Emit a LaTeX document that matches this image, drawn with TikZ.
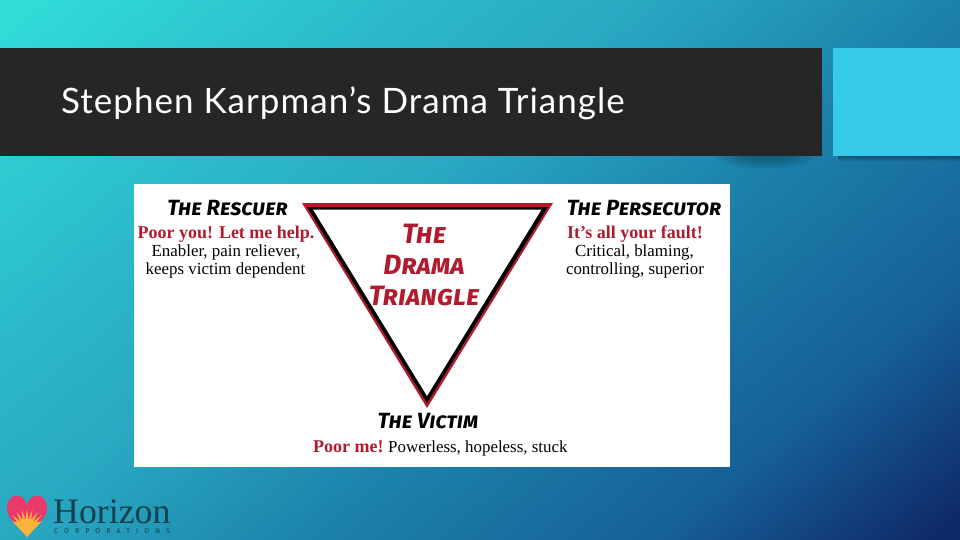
\documentclass[tikz,border=0pt]{standalone}
\usepackage{fontspec}
\setmainfont{Liberation Serif}
\newfontfamily\titlefont[LetterSpace=2.9]{Lato}
\newfontfamily\markerfont{Fira Sans}
\newfontfamily\corpfont[LetterSpace=87]{Fira Sans}
\usetikzlibrary{positioning}
\definecolor{barcol}{HTML}{262626}
\definecolor{boxcol}{HTML}{35CBE8}
\definecolor{dramared}{HTML}{B01C2E}
\definecolor{heartcol}{HTML}{E93A6B}
\definecolor{suncol}{HTML}{F9B43A}
\definecolor{logocol}{HTML}{14414F}
\definecolor{bga}{HTML}{0F2A68}
\definecolor{bgb}{HTML}{165F99}
\definecolor{bgc}{HTML}{1C82AA}
\definecolor{bgd}{HTML}{29A8C2}
\definecolor{bge}{HTML}{2CB8CA}
\definecolor{bgf}{HTML}{30DCD8}
\pgfdeclareverticalshading{slidebg}{100bp}{
  color(0bp)=(bga);color(30bp)=(bga);color(37bp)=(bgb);color(46bp)=(bgc);
  color(54bp)=(bgd);color(60bp)=(bge);color(70bp)=(bgf);color(100bp)=(bgf)}
\tikzset{
  marker/.style={font=\markerfont\fontsize{22}{24}\selectfont\bfseries\itshape\scshape,inner sep=0pt},
  bigmarker/.style={marker,text=dramared,font=\markerfont\fontsize{28}{30}\selectfont\bfseries\itshape\scshape},
  redtext/.style={font=\fontsize{18}{20}\selectfont\bfseries,text=dramared,inner sep=0pt},
  plaintext/.style={font=\fontsize{16.9}{20}\selectfont,inner sep=0pt}}
\begin{document}
\begin{tikzpicture}[x=1pt,y=-1pt,line join=round]
  \useasboundingbox (0,0) rectangle (960,540);
  % background
  \clip (0,0) rectangle (960,540);
  \shade[shading=slidebg,shading angle=40] (-200,-300) rectangle (1160,840);
  % title bar and box
  \foreach \r in {3,5,...,13} \fill[black,opacity=.05] (765,156) ellipse ({\r*3+10} and \r);
  \foreach \r in {1,2,...,5} \fill[black,opacity=.07] (838,156) rectangle (960,156+\r);
  \fill[barcol] (0,48) rectangle (822,156);
  \fill[boxcol] (833,48) rectangle (960,156);
  \node[anchor=base west,inner sep=0pt,text=white,font=\titlefont\fontsize{35}{38}\selectfont] (title) at (61,114) {Stephen Karpman’s Drama Triangle};
  % picture
  \fill[white] (134,184) rectangle (730,467);
  \fill[dramared] (302,203) -- (553,203) -- (427,408) -- cycle;
  \fill[black] (307,207) -- (548,207) -- (427,403) -- cycle;
  \fill[white] (313,209.5) -- (541.5,209.5) -- (427,396) -- cycle;
  \node[marker] (rescuer) at (227.5,208) {The Rescuer};
  \node[redtext] (rescuerq) at (226,234) {Poor you! Let me help.};
  \node[plaintext] (rescuera) at (226,252.5) {Enabler, pain reliever,};
  \node[plaintext] (rescuerb) at (225.5,270.5) {keeps victim dependent};
  \node[marker] (persecutor) at (644,208) {The Persecutor};
  \node[redtext] (persecutorq) at (635,234) {It’s all your fault!};
  \node[plaintext] (persecutora) at (634.5,252.5) {Critical, blaming,};
  \node[plaintext] (persecutorb) at (635,270.5) {controlling, superior};
  \node[bigmarker] (dtitlea) at (424,234) {The};
  \node[bigmarker] (dtitleb) at (424,265) {Drama};
  \node[bigmarker] (dtitlec) at (424,296) {Triangle};
  \node[marker] (victim) at (428,421) {The Victim};
  \node[redtext,anchor=base west] (victimq) at (313,452) {Poor me!};
  \node[plaintext,anchor=base west] (victimt) at (388,452) {Powerless, hopeless, stuck};
  % logo
  \begin{scope}
    \clip (27,537) .. controls (18,526) and (7,519) .. (7,508) .. controls (7,492) and (24,492) .. (27,505) .. controls (30,492) and (47,492) .. (47,508) .. controls (47,519) and (36,526) .. (27,537) -- cycle;
    \fill[heartcol] (0,490) rectangle (54,540);
    \foreach \a in {-165,-150,...,-15} \fill[suncol] (27,530) +(\a-6:12) -- +(\a:21) -- +(\a+6:12) -- cycle;
    \fill[suncol] (27,530) circle (12);
    \fill[suncol] (27,540) -- (10,522) -- (44,522) -- cycle;
  \end{scope}
  \node[anchor=south west,inner sep=0pt,text depth=0pt,text=logocol,font=\fontsize{35.8}{38}\selectfont] (horizon) at (53,524) {Horizon};
  \node[anchor=west,inner sep=0pt,text=logocol,font=\corpfont\fontsize{7}{8}\selectfont] (corp) at (54,531) {CORPORATIONS};
\end{tikzpicture}
\end{document}
